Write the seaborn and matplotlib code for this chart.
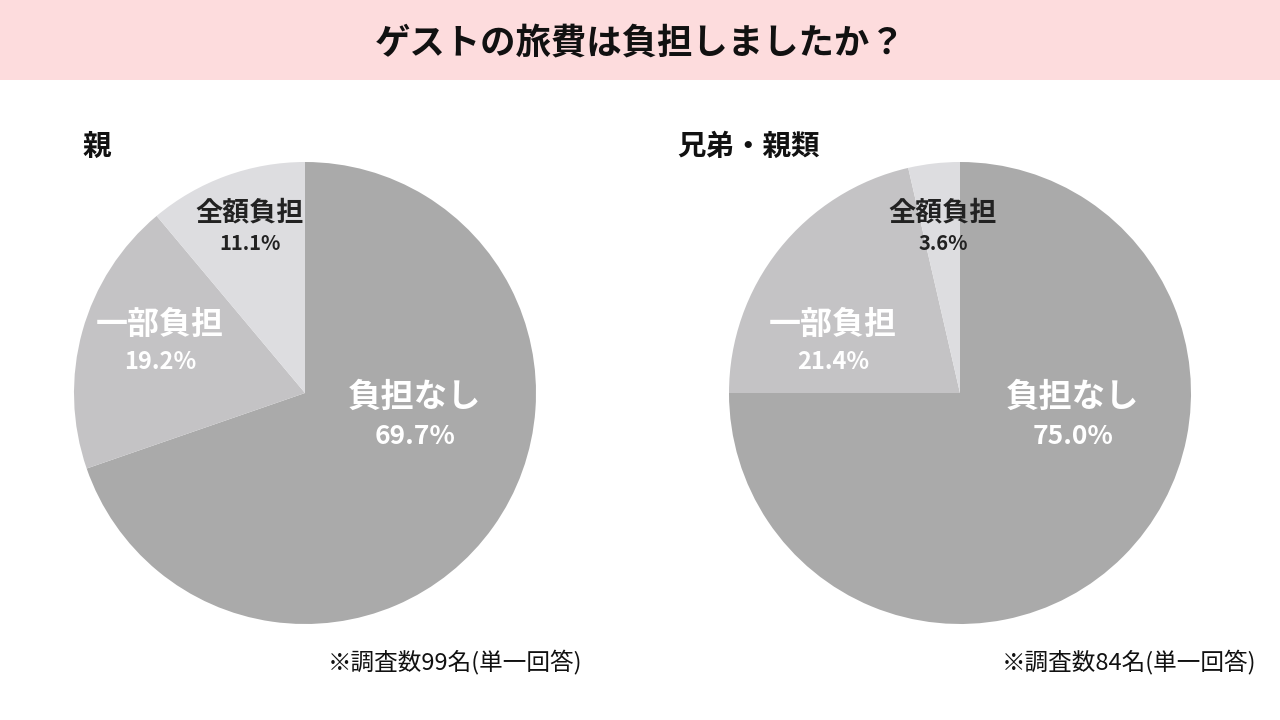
import matplotlib
matplotlib.use("Agg")
import matplotlib.pyplot as plt
import seaborn as sns

sns.set_style("white")
plt.rcParams['font.family'] = ['Noto Sans CJK JP', 'DejaVu Sans']

title = "ゲストの旅費は負担しましたか？"
categories = ["負担なし", "一部負担", "全額負担"]
groups = ["親", "兄弟・親類"]
values_parent = [69.7, 19.2, 11.1]
values_sibling = [75.0, 21.4, 3.6]
pct_labels_parent = ["69.7%", "19.2%", "11.1%"]
pct_labels_sibling = ["75.0%", "21.4%", "3.6%"]
footnotes = ["※調査数99名(単一回答)", "※調査数84名(単一回答)"]

colors = ["#aaaaaa", "#c4c3c5", "#dddde0"]
text_colors = ["white", "white", "#222222"]

W, H = 1280, 720
fig = plt.figure(figsize=(W / 100, H / 100), dpi=100)
fig.patch.set_facecolor("white")

# title band
band = fig.add_axes([0, 1 - 80 / H, 1, 80 / H])
band.set_facecolor("#fddcdd")
band.set_xticks([]); band.set_yticks([])
for s in band.spines.values():
    s.set_visible(False)
fig.text(0.5, 1 - 43 / H, title, ha="center", va="center", fontsize=25.5,
         fontweight="bold", color="#111111")

R = 231
pies = [
    dict(cx=305, cy=393, vals=values_parent, pcts=pct_labels_parent,
         group=groups[0], gx=82, gy=147, foot=footnotes[0], fx=582,
         lab=[(415, 397, 437), (160, 325, 362), (250, 212, 243)]),
    dict(cx=960, cy=393, vals=values_sibling, pcts=pct_labels_sibling,
         group=groups[1], gx=677, gy=147, foot=footnotes[1], fx=1256,
         lab=[(1073, 397, 437), (833, 325, 362), (943, 212, 243)]),
]

name_sizes = [24, 23, 19.5]
pct_sizes = [19, 17, 14.5]

for p in pies:
    ax = fig.add_axes([(p["cx"] - R) / W, (H - p["cy"] - R) / H, 2 * R / W, 2 * R / H])
    ax.pie(p["vals"], colors=colors, startangle=90, counterclock=False,
           wedgeprops=dict(linewidth=0))
    ax.set_xlim(-1, 1); ax.set_ylim(-1, 1)
    ax.set_aspect("equal")
    ax.axis("off")
    for i, (lx, ly1, ly2) in enumerate(p["lab"]):
        fig.text(lx / W, 1 - ly1 / H, categories[i], ha="center", va="center",
                 fontsize=name_sizes[i], fontweight="bold", color=text_colors[i])
        fig.text(lx / W, 1 - ly2 / H, p["pcts"][i], ha="center", va="center",
                 fontsize=pct_sizes[i], fontweight="bold", color=text_colors[i])
    fig.text(p["gx"] / W, 1 - p["gy"] / H, p["group"], ha="left", va="center",
             fontsize=20.5, fontweight="bold", color="#111111")
    fig.text(p["fx"] / W, 1 - 662 / H, p["foot"], ha="right", va="center",
             fontsize=17, color="#111111")

fig.savefig("out.png", dpi=100)
